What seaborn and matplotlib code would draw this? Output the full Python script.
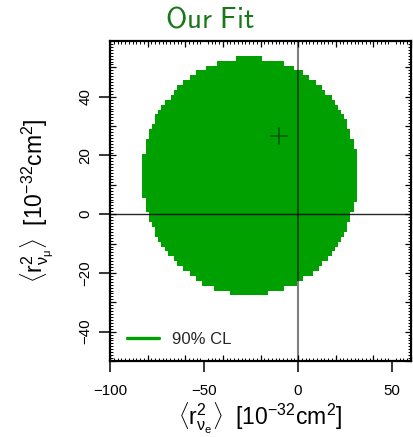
import numpy as np
import pandas as pd
import matplotlib
matplotlib.use("Agg")
import matplotlib.pyplot as plt
import seaborn as sns
from matplotlib.ticker import MultipleLocator, NullLocator
from matplotlib.lines import Line2D

# ---- data (units of 1e-32 cm^2) ----
# row boundaries of the allowed (90% CL) region, from top to bottom
row_edges_y = [53.9, 52.2, 50.5, 49.2, 47.5, 45.8, 44.1, 42.4, 40.6, 38.9,
               37.2, 35.5, 34.2, 32.5, 30.8, 29.1, 27.4, 25.7, 24.0, 22.3,
               20.5, 18.8, 17.5, 15.8, 14.1, 12.4, 10.7, 9.0, 7.3, 5.5,
               4.2, 2.5, 0.8, -0.9, -2.6, -4.3, -6.0, -7.7, -9.4, -11.1,
               -12.5, -14.2, -15.9, -17.6, -19.3, -21.0, -22.7, -24.4, -26.1, -27.4]
# left / right edge of the region in each row
row_x_left = [-32.8, -42.9, -49.2, -54.5, -57.7, -61.4, -64.6, -66.2, -67.7, -70.9,
              -73.0, -74.6, -76.2, -76.2, -77.8, -79.4, -79.4, -81.0, -81.0, -81.0,
              -83.1, -83.1, -83.1, -83.1, -83.1, -83.1, -83.1, -83.1, -83.1, -81.0,
              -81.0, -81.0, -79.4, -79.4, -77.8, -76.2, -76.2, -74.6, -73.0, -70.9,
              -69.3, -66.2, -64.6, -61.4, -57.7, -54.5, -51.3, -44.5, -36.0]
row_x_right = [-19.1, -7.5, -2.2, 2.6, 5.8, 9.5, 12.6, 14.2, 17.9, 19.5,
               21.1, 22.7, 24.3, 25.9, 25.9, 27.4, 27.4, 29.6, 29.6, 31.2,
               31.2, 31.2, 31.2, 31.2, 31.2, 31.2, 31.2, 31.2, 31.2, 31.2,
               29.6, 29.6, 27.4, 27.4, 25.9, 25.9, 24.3, 22.7, 21.1, 19.5,
               17.9, 15.8, 12.6, 11.1, 7.9, 2.6, -0.6, -7.5, -15.9]
best_fit_x = [-10.0]
best_fit_y = [26.6]
x_ticks = [-100, -50, 0, 50]
y_ticks = [-40, -20, 0, 20, 40]
legend_label = "90% CL"
title_text = "Our Fit"

GREEN = "#00a000"

rows = pd.DataFrame({
    "top": row_edges_y[:-1],
    "bottom": row_edges_y[1:],
    "left": row_x_left,
    "right": row_x_right,
})

sns.set_theme(style="ticks")
plt.rcParams["font.family"] = ["Liberation Sans", "DejaVu Sans"]
plt.rcParams["mathtext.fontset"] = "custom"
plt.rcParams["mathtext.rm"] = "Liberation Sans"
plt.rcParams["mathtext.it"] = "Liberation Sans"
plt.rcParams["mathtext.bf"] = "Liberation Sans:bold"

fig = plt.figure(figsize=(4.13, 4.37), dpi=100)
ax = fig.add_axes([110 / 413, 76 / 437, 301 / 413, 320 / 437])

# twins for the medium-length inner ticks
axx = ax.twiny()
axy = ax.twinx()

# region
ax.barh(y=rows["bottom"], width=rows["right"] - rows["left"], left=rows["left"],
        height=rows["top"] - rows["bottom"], align="edge", color=GREEN,
        linewidth=0, antialiased=False, zorder=1)

ax.axvline(0, color="black", alpha=0.5, lw=1.5, zorder=2)
ax.axhline(0, color="black", alpha=0.85, lw=1.0, zorder=2)

sns.scatterplot(x=best_fit_x, y=best_fit_y, ax=ax, marker="+", s=180,
                color="black", alpha=0.4, linewidth=1.3, zorder=3, legend=False)

ax.set_xlim(-100, 60)
ax.set_ylim(-50, 59)
axx.set_xlim(-100, 60)
axy.set_ylim(-50, 59)

for s in ax.spines.values():
    s.set_linewidth(1.6)
    s.set_color("black")
for a in (axx, axy):
    for s in a.spines.values():
        s.set_visible(False)

ax.set_xticks(x_ticks)
ax.set_yticks(y_ticks)
ax.xaxis.set_minor_locator(MultipleLocator(2))
ax.yaxis.set_minor_locator(MultipleLocator(1))
ax.tick_params(which="major", direction="out", length=7.8, width=1.1, color="black",
               bottom=True, left=True, top=False, right=False,
               labelsize=10.8, labelcolor="black")
ax.tick_params(axis="x", which="major", pad=9)
ax.tick_params(axis="y", which="major", pad=5, labelrotation=90)
ax.tick_params(which="minor", direction="in", length=2.2, width=0.7, color="black",
               bottom=True, top=True, left=True, right=True)
for lbl in ax.get_yticklabels():
    lbl.set_va("center")

axx.xaxis.set_major_locator(MultipleLocator(20))
axx.xaxis.set_minor_locator(NullLocator())
axx.tick_params(axis="x", which="major", direction="in", length=4.3, width=0.9,
                color="black", top=True, bottom=True, labeltop=False, labelbottom=False)
axy.yaxis.set_major_locator(MultipleLocator(10))
axy.yaxis.set_minor_locator(NullLocator())
axy.tick_params(axis="y", which="major", direction="in", length=4.3, width=0.9,
                color="black", left=True, right=True, labelleft=False, labelright=False)

ax.set_xlabel(r"$\langle \mathrm{r}^2_{\nu_e}\rangle\ \ [10^{-32}\mathrm{cm}^2]$",
              fontsize=16.5, labelpad=1.5, color="black")
ax.set_ylabel(r"$\langle \mathrm{r}^2_{\nu_\mu}\rangle\ \ [10^{-32}\mathrm{cm}^2]$",
              fontsize=16.5, labelpad=17, color="black")

handle = Line2D([], [], color=GREEN, lw=2.4)
ax.legend(handles=[handle], labels=[legend_label], loc="center left",
          bbox_to_anchor=(17 / 301, 22 / 320), frameon=False, fontsize=12,
          handlelength=1.9, handletextpad=0.8, borderpad=0, borderaxespad=0)

fig.text(210 / 413, 1 - 28 / 437, r"$\mathsf{Our\ Fit}$", math_fontfamily="cm",
         fontsize=21, color="#187818", ha="center", va="baseline")

fig.savefig("out.png", dpi=100)
